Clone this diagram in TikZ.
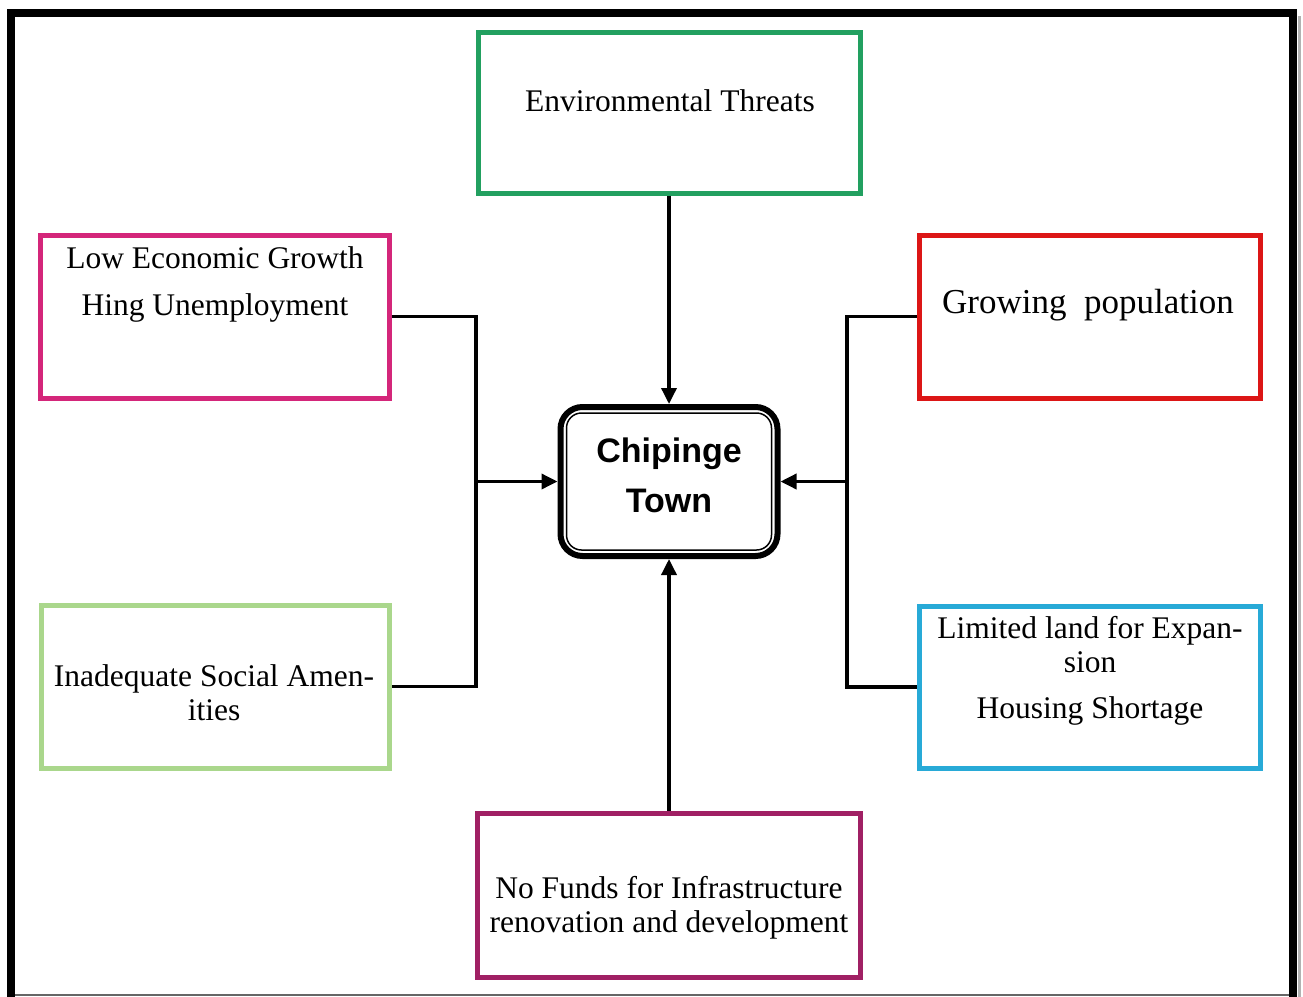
\documentclass[tikz,border=0pt]{standalone}
\usepackage{fontspec}
\setmainfont{Liberation Serif}
\setsansfont{Liberation Sans}
\usetikzlibrary{arrows.meta}

\definecolor{envgreen}{RGB}{34,160,96}
\definecolor{ecomagenta}{RGB}{212,38,122}
\definecolor{popred}{RGB}{220,22,22}
\definecolor{landcyan}{RGB}{40,170,215}
\definecolor{amenlime}{RGB}{170,215,140}
\definecolor{fundmaroon}{RGB}{160,32,100}

\begin{document}
\begin{tikzpicture}[x=1pt,y=-1pt]
    \useasboundingbox (0,0) rectangle (1303,996);
    \tikzstyle{Box}=[draw,line width=5pt,inner sep=0pt]
    \tikzstyle{Label}=[font=\fontsize{31.5}{34}\selectfont,align=center,inner sep=0pt,anchor=base]
    \tikzstyle{Link}=[line width=3.5pt]
    \tikzstyle{Post}=[Link,-{Triangle[length=16pt,width=15pt]}]
    % frame
    \draw[line width=3pt,black!30] (1299,16) -- (1299,1000);
    \draw[line width=8pt] (11,1000) -- (11,13) -- (1293,13) -- (1293,1000);
    \draw[line width=1.5pt,black!60] (15,995) -- (1289,995);
    % boxes
    \node[Box,draw=envgreen,minimum width=382pt,minimum height=161pt] (env) at (669,112.5) {};
    \node[Box,draw=ecomagenta,minimum width=349pt,minimum height=163pt] (eco) at (214.5,316.5) {};
    \node[Box,draw=popred,minimum width=341pt,minimum height=163pt] (pop) at (1089.5,316.5) {};
    \node[Box,draw=landcyan,minimum width=341pt,minimum height=162pt] (land) at (1089.5,687) {};
    \node[Box,draw=amenlime,minimum width=348pt,minimum height=163pt] (amen) at (215,686.5) {};
    \node[Box,draw=fundmaroon,minimum width=383pt,minimum height=164pt] (fund) at (669,895) {};
    \node[draw,line width=6pt,rounded corners=22pt,minimum width=217pt,minimum height=149pt] (town) at (669,481.5) {};
    \draw[line width=1.5pt,rounded corners=15pt] ([shift={(9,-9)}]town.south west) rectangle ([shift={(-9,9)}]town.north east);
    % texts (anchored at the baseline of the last line)
    \node[Label] (envtext) at (670,111) {Environmental Threats};
    \node[Label] (ecotext) at (215,315) {Low Economic Growth\\[13pt]Hing Unemployment};
    \node[Label,font=\fontsize{35}{38}\selectfont] (poptext) at (1088,313) {Growing\ \ population};
    \node[Label] (landtext) at (1090,718) {Limited land for Expan-\\sion\\[12pt]Housing Shortage};
    \node[Label] (amentext) at (214,720) {Inadequate Social Amen-\\ities};
    \node[Label] (fundtext) at (669,932) {No Funds for Infrastructure\\renovation and development};
    \node[Label,font=\sffamily\bfseries\fontsize{34}{50}\selectfont] (towntext) at (669,512) {Chipinge\\Town};
    % connectors
    \coordinate (lj) at (476,481.5);
    \coordinate (rj) at (847,481.5);
    \draw[Link] (eco.east) -| (lj) |- (amen.east);
    \draw[Link] (pop.west) -| (rj) |- (land.west);
    \draw[Post] (lj) -- (town.west);
    \draw[Post] (rj) -- (town.east);
    \draw[Post] (env.south) -- (town.north);
    \draw[Post] (fund.north) -- (town.south);
\end{tikzpicture}
\end{document}
